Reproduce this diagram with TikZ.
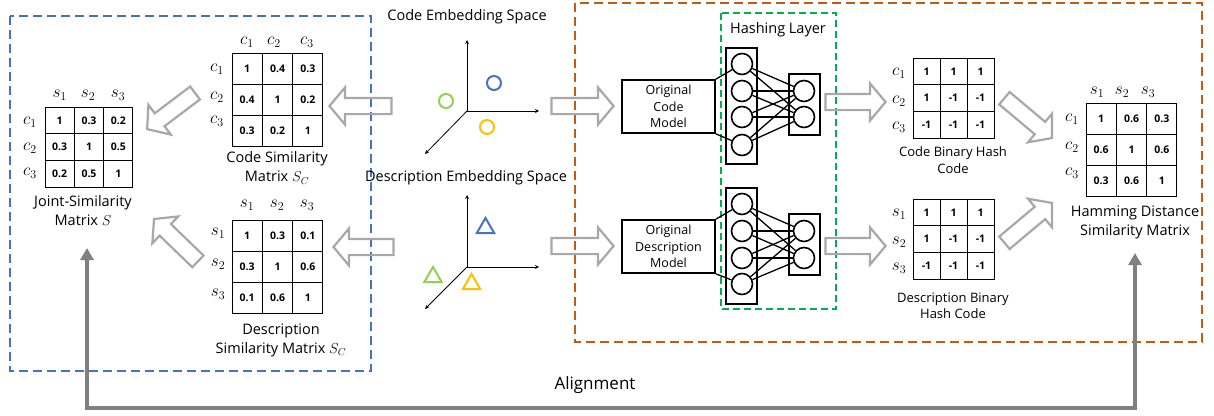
\documentclass[tikz,border=0pt]{standalone}
\usepackage{fontspec}
\setmainfont{Open Sans}
\usetikzlibrary{shapes.arrows,shapes.geometric,arrows.meta}
\definecolor{boxblue}{HTML}{4472C4}
\definecolor{boxorange}{HTML}{C55A11}
\definecolor{boxgreen}{HTML}{00B050}
\definecolor{ptgreen}{HTML}{92D050}
\definecolor{ptorange}{HTML}{FFC000}
\definecolor{hollowgray}{HTML}{A8A8A8}
\definecolor{aligngray}{HTML}{808080}
\tikzset{
  cell/.style 2 args={draw, line width=1pt, inner sep=0pt, minimum width=#1, minimum height=#2,
    font=\bfseries\fontsize{10.5}{12}\selectfont},
  mlbl/.style={inner sep=0pt, font=\fontsize{17}{17}\selectfont},
  lbl/.style={inner sep=0pt, align=center, font=\fontsize{14.5}{19}\selectfont},
  small lbl/.style={inner sep=0pt, align=center, font=\fontsize{13}{16.5}\selectfont},
  hollow/.style={single arrow, draw=hollowgray, line width=2.2pt, inner xsep=0pt, inner ysep=7pt,
    minimum height=#1, single arrow head extend=10.5pt, single arrow tip angle=100, anchor=tip},
  dashbox/.style={draw=#1, line width=1.8pt, dash pattern=on 9pt off 5pt},
  pt/.style={circle, draw=#1, line width=2pt, minimum size=14pt, inner sep=0pt},
  tri/.style={regular polygon, regular polygon sides=3, draw=#1, line width=2pt, minimum size=20pt, inner sep=0pt},
  axis/.style={line width=0.8pt, -stealth},
  neuron/.style={circle, draw, line width=1.6pt, minimum size=21pt, inner sep=0pt},
  layer/.style={draw, line width=1.6pt, minimum width=31pt, inner sep=0pt},
  model/.style={draw, line width=1.8pt, minimum width=93pt, minimum height=53pt, inner sep=0pt,
    align=center, font=\fontsize{12.5}{16.7}\selectfont},
  link/.style={line width=1.3pt}
}
\begin{document}
\begin{tikzpicture}[x=1pt,y=-1pt]
  \useasboundingbox (0,0) rectangle (1214,415);
  % dashed frames
  \draw[dashbox=boxblue] (10,16) rectangle (371,371);
  \draw[dashbox=boxorange] (575,3) rectangle (1202,342);
  \draw[dashbox=boxgreen, dash pattern=on 7pt off 4pt] (721,13) rectangle (836,309);
  \node[lbl] (hashlbl) at (778,30) {Hashing Layer};

  % joint similarity matrix
  \foreach \a/\b/\c [count=\r] in {1/0.3/0.2,0.3/1/0.5,0.2/0.5/1}{
    \node[cell={29.3pt}{26.7pt}] (js-\r-1) at (59.7,{93.65+26.7*\r}) {\a};
    \node[cell={29.3pt}{26.7pt}] (js-\r-2) at (89,{93.65+26.7*\r}) {\b};
    \node[cell={29.3pt}{26.7pt}] (js-\r-3) at (118.3,{93.65+26.7*\r}) {\c};
  }
  \foreach \i/\x in {1/59.7,2/88,3/118} \node[mlbl] (js-s\i) at (\x,95) {$s_\i$};
  \foreach \i/\y in {1/122,2/148,3/173} \node[mlbl] (js-c\i) at (30,\y) {$c_\i$};
  \node[lbl] (jointlbl) at (83,211) {Joint-Similarity\\Matrix $S$};

  % code similarity matrix
  \foreach \a/\b/\c [count=\r] in {1/0.4/0.3,0.4/1/0.2,0.3/0.2/1}{
    \node[cell={30.3pt}{31pt}] (cs-\r-1) at (247.2,{37.5+31*\r}) {\a};
    \node[cell={30.3pt}{31pt}] (cs-\r-2) at (277.5,{37.5+31*\r}) {\b};
    \node[cell={30.3pt}{31pt}] (cs-\r-3) at (307.8,{37.5+31*\r}) {\c};
  }
  \foreach \i/\x in {1/247,2/274,3/307} \node[mlbl] (cs-t\i) at (\x,42) {$c_\i$};
  \foreach \i/\y in {1/69,2/97,3/121} \node[mlbl] (cs-c\i) at (217,\y) {$c_\i$};
  \node[lbl] (codesimlbl) at (277,168) {Code Similarity\\Matrix $S_C$};

  % description similarity matrix
  \foreach \a/\b/\c [count=\r] in {1/0.3/0.1,0.3/1/0.6,0.1/0.6/1}{
    \node[cell={30.3pt}{31pt}] (ds-\r-1) at (247.2,{204.5+31*\r}) {\a};
    \node[cell={30.3pt}{31pt}] (ds-\r-2) at (277.5,{204.5+31*\r}) {\b};
    \node[cell={30.3pt}{31pt}] (ds-\r-3) at (307.8,{204.5+31*\r}) {\c};
  }
  \foreach \i/\x in {1/247,2/277,3/307} \node[mlbl] (ds-t\i) at (\x,205) {$s_\i$};
  \foreach \i/\y in {1/233,2/264,3/294} \node[mlbl] (ds-s\i) at (218,\y) {$s_\i$};
  \node[lbl] (descsimlbl) at (281,340) {Description\\Similarity Matrix $S_C$};

  % embedding spaces
  \node[lbl] (cemblbl) at (467,17) {Code Embedding Space};
  \coordinate (co) at (467,111);
  \coordinate (co-up) at (467,40);
  \coordinate (co-right) at (539,111);
  \coordinate (co-down) at (425,154);
  \draw[axis] (co) -- (co-up);
  \draw[axis] (co) -- (co-right);
  \draw[axis] (co) -- (co-down);
  \node[pt=ptgreen] (cp1) at (446,101) {};
  \node[pt=boxblue] (cp2) at (494,83) {};
  \node[pt=ptorange] (cp3) at (487,127) {};

  \node[lbl] (demblbl) at (466,178) {Description Embedding Space};
  \coordinate (do) at (467,267);
  \coordinate (do-up) at (467,195);
  \coordinate (do-right) at (539,267);
  \coordinate (do-down) at (425,309);
  \draw[axis] (do) -- (do-up);
  \draw[axis] (do) -- (do-right);
  \draw[axis] (do) -- (do-down);
  \node[tri=boxblue] (dp1) at (485.5,228) {};
  \node[tri=ptgreen] (dp2) at (433,277) {};
  \node[tri=ptorange] (dp3) at (471.5,284) {};

  % models and hashing layers
  \node[model] (cmodel) at (668.5,106.5) {Original\\Code\\Model};
  \node[model] (dmodel) at (668.5,246.5) {Original\\Description\\Model};
  \node[layer, minimum height=116pt] (cin) at (741.5,106) {};
  \node[layer, minimum height=61pt] (cout) at (804.5,104.5) {};
  \node[layer, minimum height=116pt] (din) at (741.5,246) {};
  \node[layer, minimum height=61pt] (dout) at (804.5,244.5) {};
  \foreach \i/\y in {1/64,2/91,3/117,4/145} \node[neuron] (ci\i) at (742,\y) {};
  \foreach \i/\y in {1/91,2/117} \node[neuron] (co\i) at (804,\y) {};
  \foreach \i/\y in {1/204,2/231,3/258,4/284} \node[neuron] (di\i) at (742,\y) {};
  \foreach \i/\y in {1/231,2/258} \node[neuron] (do\i) at (804,\y) {};
  \foreach \i in {1,...,4}
    \foreach \j in {1,2} {
      \draw[link] (ci\i) -- (co\j);
      \draw[link] (di\i) -- (do\j);
    }
  \draw[link] (cmodel.north east) -- (ci1);
  \draw[link] (cmodel.south east) -- (ci4);
  \draw[link] (dmodel.north east) -- (di1);
  \draw[link] (dmodel.south east) -- (di4);

  % binary hash codes
  \foreach \a/\b/\c [count=\r] in {1/1/1,1/-1/-1,-1/-1/-1}{
    \node[cell={27pt}{26.7pt}] (ch-\r-1) at (926.5,{44.65+26.7*\r}) {\a};
    \node[cell={27pt}{26.7pt}] (ch-\r-2) at (953.5,{44.65+26.7*\r}) {\b};
    \node[cell={27pt}{26.7pt}] (ch-\r-3) at (980.5,{44.65+26.7*\r}) {\c};
    \node[cell={27pt}{26.7pt}] (dh-\r-1) at (926.5,{185.65+26.7*\r}) {\a};
    \node[cell={27pt}{26.7pt}] (dh-\r-2) at (953.5,{185.65+26.7*\r}) {\b};
    \node[cell={27pt}{26.7pt}] (dh-\r-3) at (980.5,{185.65+26.7*\r}) {\c};
  }
  \foreach \i/\y in {1/73,2/101,3/127} \node[mlbl] (ch-c\i) at (899,\y) {$c_\i$};
  \foreach \i/\y in {1/214,2/242,3/268} \node[mlbl] (dh-s\i) at (899,\y) {$s_\i$};
  \node[small lbl] (chashlbl) at (953,160) {Code Binary Hash\\Code};
  \node[small lbl] (dhashlbl) at (953,306) {Description Binary\\Hash Code};

  % hamming distance matrix
  \foreach \a/\b/\c [count=\r] in {1/0.6/0.3,0.6/1/0.6,0.3/0.6/1}{
    \node[cell={30.3pt}{31pt}] (hm-\r-1) at (1101.2,{87.5+31*\r}) {\a};
    \node[cell={30.3pt}{31pt}] (hm-\r-2) at (1131.5,{87.5+31*\r}) {\b};
    \node[cell={30.3pt}{31pt}] (hm-\r-3) at (1161.8,{87.5+31*\r}) {\c};
  }
  \foreach \i/\x in {1/1097,2/1122,3/1148} \node[mlbl] (hm-s\i) at (\x,92) {$s_\i$};
  \foreach \i/\y in {1/119,2/147,3/173} \node[mlbl] (hm-c\i) at (1072,\y) {$c_\i$};
  \node[lbl] (hamlbl) at (1135,222) {Hamming Distance\\Similarity Matrix};

  % hollow arrows
  \node[hollow=62pt] (a-cm) at (615,106) {};
  \node[hollow=62pt] (a-dm) at (615,246) {};
  \node[hollow=62pt, rotate=180] (a-cs) at (328,106) {};
  \node[hollow=60pt, rotate=180] (a-ds) at (332,247) {};
  \node[hollow=60pt, rotate=217] (a-cj) at (146,130) {};
  \node[hollow=61pt, rotate=136] (a-dj) at (153,218) {};
  \node[hollow=60pt] (a-ch) at (887,102) {};
  \node[hollow=60pt] (a-dh) at (887,246) {};
  \node[hollow=62pt, rotate=-40] (a-ch2) at (1053,139) {};
  \node[hollow=62pt, rotate=40] (a-dh2) at (1053,202) {};

  % alignment
  \coordinate (jointin) at (87,248);
  \coordinate (hamin) at (1135,253);
  \coordinate (alignbase) at (595,408);
  \node[inner sep=0pt, font=\fontsize{17}{17}\selectfont] (alignlbl) at (595,385) {Alignment};
  \draw[aligngray, line width=3.5pt, {Triangle[length=12pt,width=13pt]}-{Triangle[length=12pt,width=13pt]}]
    (jointin) |- (alignbase) -| (hamin);
\end{tikzpicture}
\end{document}
